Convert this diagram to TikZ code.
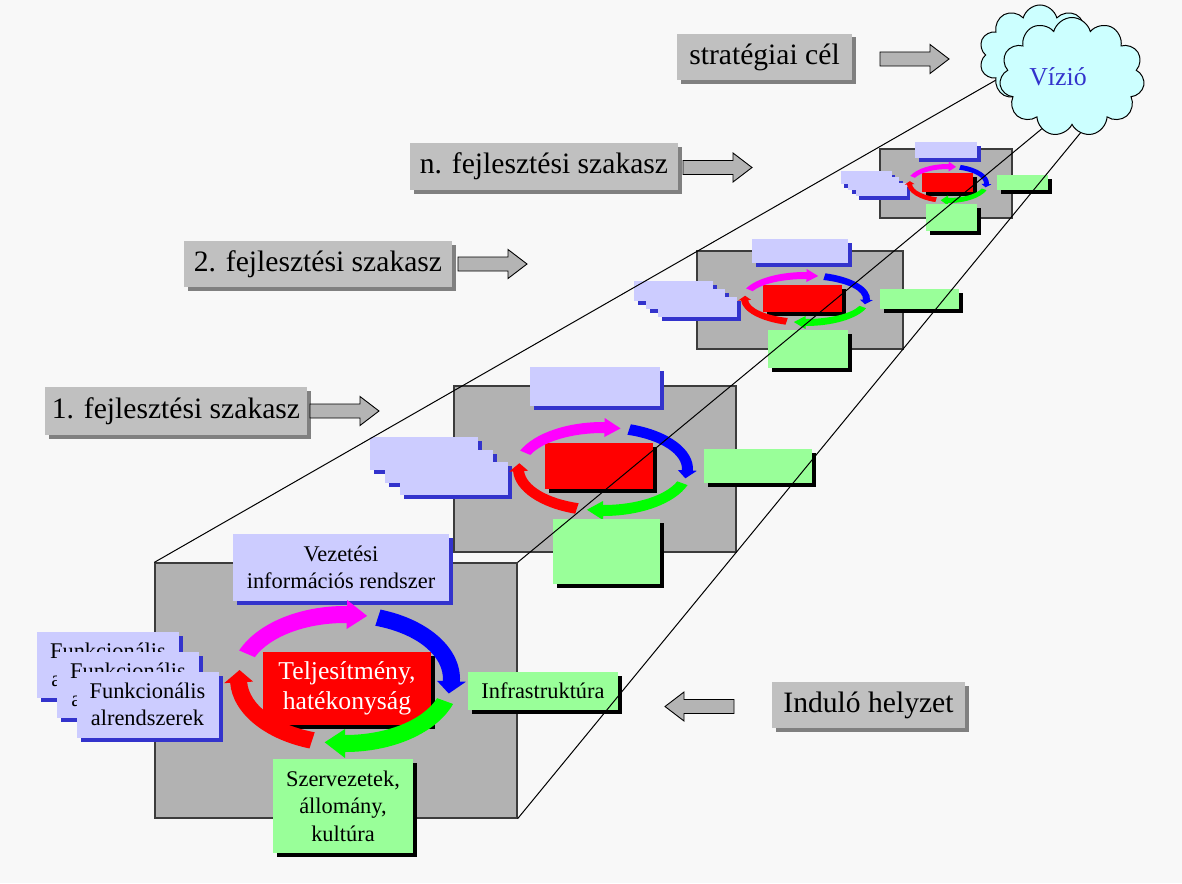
\documentclass[tikz,border=0pt]{standalone}
\usepackage{fontspec}
\setmainfont{Liberation Serif}
\usetikzlibrary{shadows,shapes.symbols}

\definecolor{bgc}{HTML}{F8F8F8}
\definecolor{lblue}{HTML}{CCCCFF}
\definecolor{dblue}{HTML}{3333CC}
\definecolor{lgreen}{HTML}{99FF99}
\definecolor{pgray}{HTML}{B2B2B2}
\definecolor{pborder}{HTML}{3C3C3C}
\definecolor{sgray}{HTML}{C0C0C0}
\definecolor{sshadow}{HTML}{808080}
\definecolor{agray}{HTML}{B4B4B4}
\definecolor{cloudc}{HTML}{CCFFFF}
\definecolor{vizc}{HTML}{3333CC}
\definecolor{ringm}{HTML}{FF00FF}
\definecolor{ringb}{HTML}{0000FF}
\definecolor{ringg}{HTML}{00FF00}
\definecolor{ringr}{HTML}{FF0000}

% ring of four curved arrows around an elliptical centre
\newcommand\setring[7]{\def\RCx{#1}\def\RCy{#2}\def\RRx{#3}\def\RRy{#4}\def\Rrx{#5}\def\Rry{#6}\def\RE{#7}}
% #1 colour, #2 tail angle, #3 head base angle, #4 tip angle (clockwise on screen)
\newcommand\ringarrow[4]{%
  \fill[#1] ({\RCx+\RRx*cos(-(#2))},{\RCy+\RRy*sin(-(#2))})
    arc[start angle={-(#2)}, end angle={-(#3)}, x radius=\RRx, y radius=\RRy]
    -- ({\RCx+(\RRx+\RE)*cos(-(#3))},{\RCy+(\RRy+\RE)*sin(-(#3))})
    -- ({\RCx+0.5*(\RRx+\Rrx)*cos(-(#4))},{\RCy+0.5*(\RRy+\Rry)*sin(-(#4))})
    -- ({\RCx+(\Rrx-\RE)*cos(-(#3))},{\RCy+(\Rry-\RE)*sin(-(#3))})
    -- ({\RCx+\Rrx*cos(-(#3))},{\RCy+\Rry*sin(-(#3))})
    arc[start angle={-(#3)}, end angle={-(#2)}, x radius=\Rrx, y radius=\Rry]
    -- cycle;}
\newcommand\ringarrows{%
  \ringarrow{ringm}{157}{89}{78}%
  \ringarrow{ringb}{72}{-2}{-13}%
  \ringarrow{ringg}{-20}{-90}{-101}%
  \ringarrow{ringr}{-108}{-177}{-188}}
% block arrow: tail x, centre y, direction (1 right, -1 left)
\newcommand\blockarrow[3]{%
  \filldraw[barrow] ({#1},{#2-7}) -- ({#1+#3*50},{#2-7}) -- ({#1+#3*50},{#2-14.5})
    -- ({#1+#3*69},{#2}) -- ({#1+#3*50},{#2+14.5}) -- ({#1+#3*50},{#2+7})
    -- ({#1},{#2+7}) -- cycle;}

\begin{document}
\begin{tikzpicture}[x=1pt,y=-1pt,
  box/.style 2 args={inner sep=0pt, minimum width=#1, minimum height=#2, align=center},
  blueb/.style={fill=lblue, drop shadow={shadow xshift=#1,shadow yshift=-#1,opacity=1,fill=dblue}},
  blueb/.default=4pt,
  greenb/.style={fill=lgreen, drop shadow={shadow xshift=#1,shadow yshift=-#1,opacity=1,fill=black}},
  greenb/.default=4pt,
  redb/.style={fill=ringr, drop shadow={shadow xshift=#1,shadow yshift=-#1,opacity=1,fill=black}},
  redb/.default=4pt,
  stageb/.style={fill=sgray, font=\fontsize{29.6}{34}\selectfont,
    drop shadow={shadow xshift=3.5pt,shadow yshift=-3.5pt,opacity=1,fill=sshadow}},
  panel/.style={fill=pgray, draw=pborder, line width=1.3pt},
  txts/.style={font=\fontsize{22.4}{27.5}\selectfont},
  barrow/.style={fill=agray, draw=black, line width=0.9pt},
  persp/.style={draw=black, line width=1pt},
  cloudshape/.style={cloud, draw=black, line width=1pt, fill=cloudc, inner sep=0pt}]

\fill[bgc] (0,0) rectangle (1182,883);
\useasboundingbox (0,0) rectangle (1182,883);

% stage captions and their block arrows
\node[stageb, box={175}{46}] (sgoal) at (764.5,57) {stratégiai cél};
\node[stageb, box={268}{47}] (sn) at (544,166.5) {n. fejlesztési szakasz};
\node[stageb, box={268}{46}] (s2) at (318,264) {2. fejlesztési szakasz};
\node[stageb, box={262}{48}] (s1) at (176,411) {1. fejlesztési szakasz};
\node[stageb, box={193}{46}] (sstart) at (868.5,705) {Induló helyzet};
\blockarrow{880}{59}{1}
\blockarrow{683}{167.5}{1}
\blockarrow{458}{264}{1}
\blockarrow{310}{411}{1}
\blockarrow{734}{706.5}{-1}

% stage n
\node[panel, box={132}{69}] (p4) at (946,183.5) {};
\node[blueb=3.5pt, box={62}{16}] (p4top) at (946,150) {};
\node[blueb=3.5pt, box={51}{13}] (p4fa) at (866,177.5) {};
\node[blueb=3.5pt, box={51}{13}] (p4fb) at (873.5,183.5) {};
\node[blueb=3.5pt, box={51}{13}] (p4fc) at (881,189.5) {};
\node[redb=3.5pt, box={51}{19}] (p4core) at (947.5,182.5) {};
\setring{948}{183.5}{41}{19.5}{36}{14.5}{2.5}\ringarrows
\node[greenb=3.5pt, box={51}{15}] (p4inf) at (1022.5,182.5) {};
\node[greenb=3.5pt, box={51}{27}] (p4org) at (951.5,217.5) {};

% stage 2
\node[panel, box={206}{98}] (p3) at (800,300) {};
\node[blueb=3.5pt, box={96}{24}] (p3top) at (800,251) {};
\node[blueb=3.5pt, box={79}{20}] (p3fa) at (673.5,291) {};
\node[blueb=3.5pt, box={79}{20}] (p3fb) at (685.5,299) {};
\node[blueb=3.5pt, box={79}{20}] (p3fc) at (697.5,307) {};
\node[redb=3.5pt, box={79}{27}] (p3core) at (802.5,298.5) {};
\setring{805.5}{299}{64.5}{27}{57.5}{20}{3}\ringarrows
\node[greenb=3.5pt, box={79}{20}] (p3inf) at (919.5,299) {};
\node[greenb=3.5pt, box={80}{38}] (p3org) at (808,349) {};

% stage 1
\node[panel, box={282}{166}] (p2) at (595,469) {};
\node[blueb, box={130}{39}] (p2top) at (595,386.5) {};
\node[blueb, box={108}{33}] (p2fa) at (424,453.5) {};
\node[blueb, box={108}{33}] (p2fb) at (439,466) {};
\node[blueb, box={108}{33}] (p2fc) at (454,478.5) {};
\node[redb, box={108}{46}] (p2core) at (599,466) {};
\setring{603}{469}{90}{47}{79}{36}{4}\ringarrows
\node[greenb, box={108}{34}] (p2inf) at (758,466) {};
\node[greenb, box={107}{65}] (p2org) at (606.5,551.5) {};

% starting situation
\node[panel, box={362}{255}] (p1) at (336,690.5) {};
\node[blueb, txts, box={216}{67}] (vir) at (341,567.5) {Vezetési\\információs rendszer};
\node[blueb, txts, box={142}{66}] (fa) at (108,665) {Funkcionális\\alrendszerek};
\node[blueb, txts, box={142}{66}] (fb) at (128,685) {Funkcionális\\alrendszerek};
\node[blueb, txts, box={142}{66}] (fc) at (147.5,704.5) {Funkcionális\\alrendszerek};
\node[redb, box={168}{73}, text=white, font=\fontsize{25.7}{30}\selectfont] (core) at (347,688.5) {Teljesítmény,\\hatékonyság};
\setring{345}{679}{115}{73}{98}{56}{6}\ringarrows
\node[greenb, txts, box={150}{38}] (infra) at (543,691) {Infrastruktúra};
\node[greenb, txts, box={140}{94}] (szerv) at (343,806) {Szervezetek,\\állomány,\\kultúra};

% perspective lines towards the vision
\coordinate (v1) at (1010,72);
\coordinate (v2) at (1050,122);
\coordinate (v3) at (1082,131);
\draw[persp] (p1.north west) -- (v1);
\draw[persp] (p1.north east) -- (v2);
\draw[persp] (p1.south east) -- (v3);

% vision cloud
\node[cloudshape, cloud puffs=10, minimum width=122, minimum height=100] (cloudb) at (1040,55) {};
\node[cloudshape, cloud puffs=11, minimum width=145, minimum height=119] (cloudf) at (1072,77) {};
\node[text=vizc, font=\fontsize{25.8}{30}\selectfont] (viz) at (1058,77) {Vízió};
\end{tikzpicture}
\end{document}
